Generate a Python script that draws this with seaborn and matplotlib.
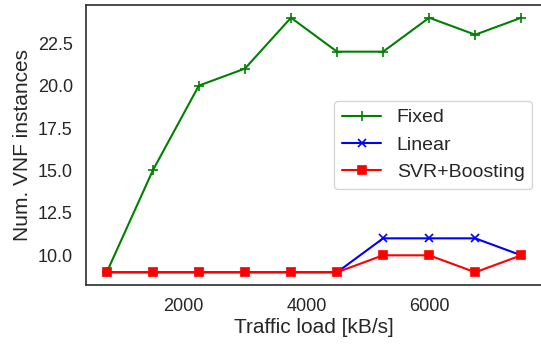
import matplotlib
matplotlib.use("Agg")
import matplotlib.pyplot as plt
import seaborn as sns
import pandas as pd

traffic_load = [750, 1500, 2250, 3000, 3750, 4500, 5250, 6000, 6750, 7500]
fixed = [9, 15, 20, 21, 24, 22, 22, 24, 23, 24]
linear = [9, 9, 9, 9, 9, 9, 11, 11, 11, 10]
svr_boosting = [9, 9, 9, 9, 9, 9, 10, 10, 9, 10]

sns.set_theme(style="white")
plt.rcParams['font.family'] = ['Liberation Sans', 'DejaVu Sans']

fig = plt.figure(figsize=(5.41, 3.44), dpi=100)
ax = fig.add_axes([86/541, 1-285/344, 456/541, 280/344])

series = [("Fixed", fixed, "green", "+", 7),
          ("Linear", linear, "blue", "x", 6),
          ("SVR+Boosting", svr_boosting, "red", "s", 6)]
for name, vals, col, mk, ms in series:
    df = pd.DataFrame({"x": traffic_load, "y": vals})
    sns.lineplot(data=df, x="x", y="y", ax=ax, color=col, marker=mk,
                 markersize=ms, linewidth=1.5, label=name,
                 markeredgecolor=col, markeredgewidth=1.2)

ax.set_xlabel("Traffic load [kB/s]", fontsize=15, color="#262626", labelpad=2)
ax.set_ylabel("Num. VNF instances", fontsize=15, color="#262626", labelpad=4)
ax.tick_params(axis="both", labelsize=13, colors="#262626")
ax.set_xticks([2000, 4000, 6000])
ax.set_yticks([10.0, 12.5, 15.0, 17.5, 20.0, 22.5])
ax.set_yticklabels(["10.0", "12.5", "15.0", "17.5", "20.0", "22.5"])
for s in ax.spines.values():
    s.set_color("#333333")
    s.set_linewidth(1.25)
ax.legend(loc="center right", fontsize=14, frameon=True)

fig.savefig("out.png", dpi=100)
